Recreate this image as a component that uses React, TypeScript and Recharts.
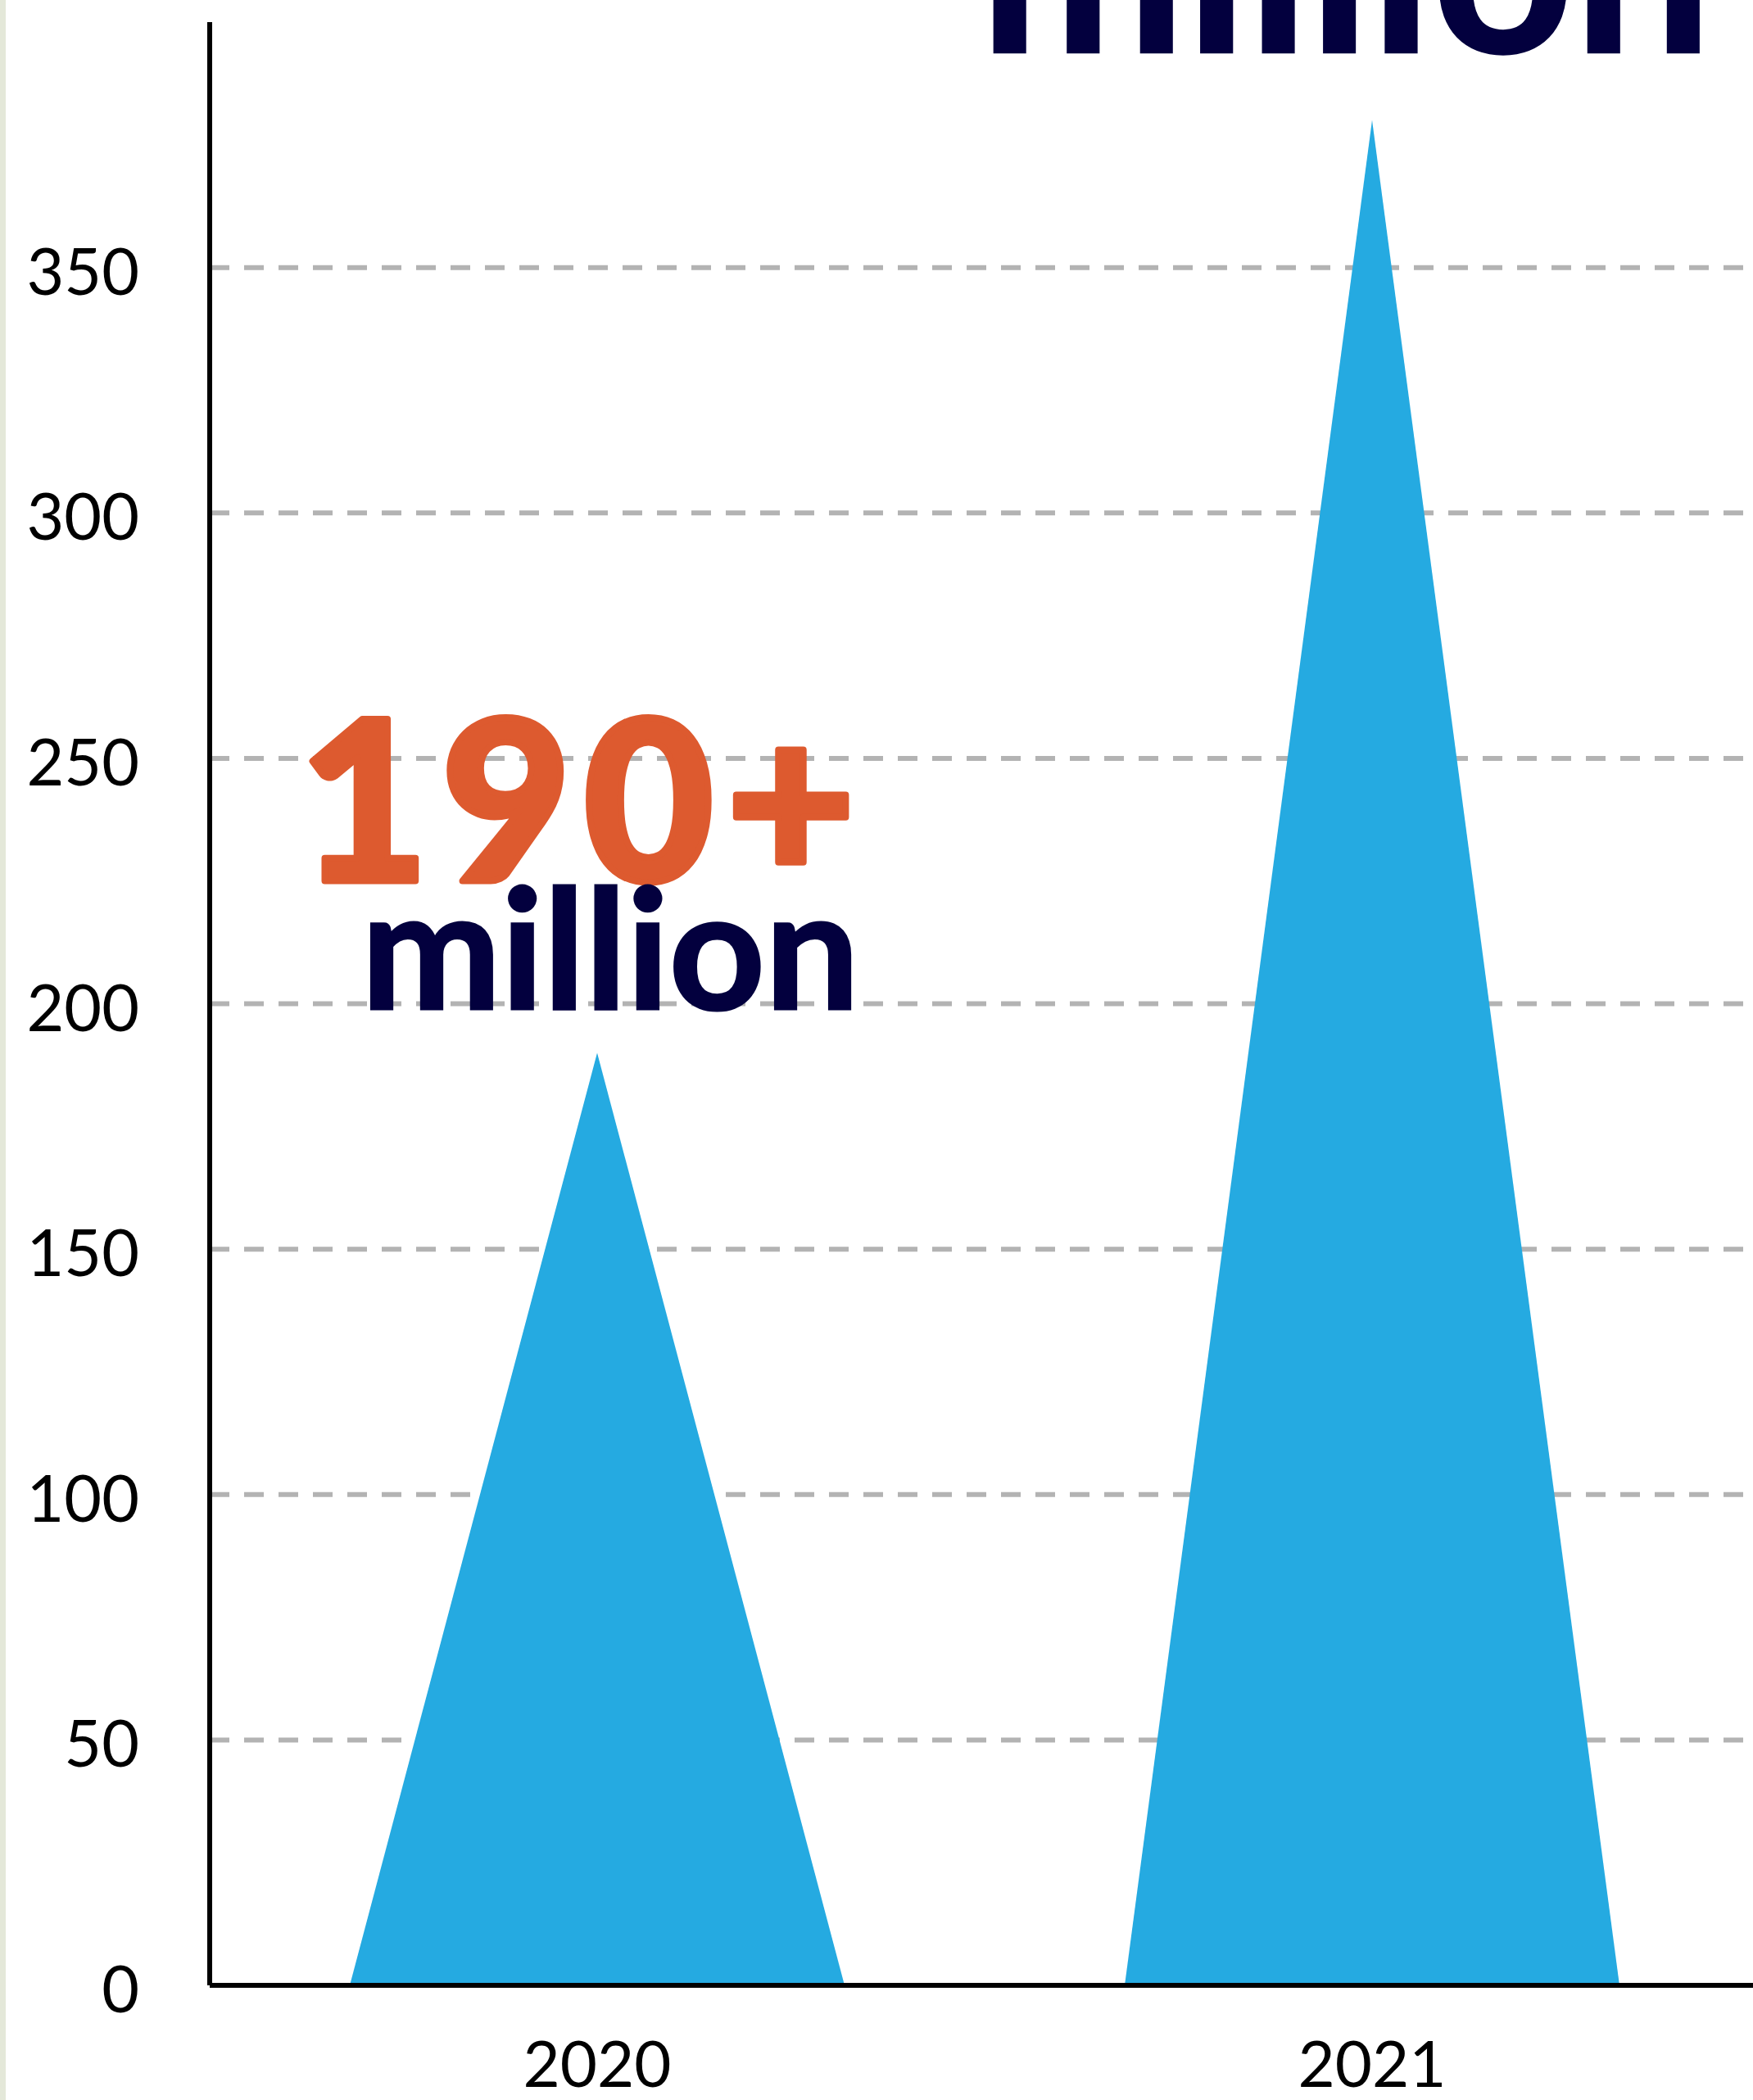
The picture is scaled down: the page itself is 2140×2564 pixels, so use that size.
import { BarChart, Bar, XAxis, YAxis, CartesianGrid, LabelList } from 'recharts';

const years = ['2020', '2021'];
const usersMillions = [190, 380];
const headlines = ['190+', '380+'];
const units = ['million', 'million'];
const yTicks = [0, 50, 100, 150, 200, 250, 300, 350];

const data = years.map((year, i) => ({
  year,
  value: usersMillions[i],
  headline: headlines[i],
  unit: units[i],
}));

// per-bar annotation styling; the 2021 headline sits above the page and is not drawn
const callouts = [
  { big: 272, small: 204, bigDx: -16, smallDx: 16, bigDy: -210, smallDy: -53, showBig: true },
  { big: 420, small: 300, bigDx: -34, smallDx: -32, bigDy: -320, smallDy: -83, showBig: false },
];

const BLUE = '#25aae1';
const ORANGE = '#dd5a2f';
const NAVY = '#03003e';

function Triangle(props: any) {
  const { x, y, width, height } = props;
  if (height == null || height <= 0) return null;
  const d = `M${x},${y + height} L${x + width / 2},${y} L${x + width},${y + height} Z`;
  return <path d={d} fill={BLUE} />;
}

function Callout(props: any) {
  const { x, y, width, index } = props;
  const row = data[index];
  const c = callouts[index];
  if (!row || !c) return null;
  const cx = Number(x) + Number(width) / 2;
  const top = Number(y);
  return (
    <g>
      {c.showBig && (
        <text
          x={cx + c.bigDx}
          y={top + c.bigDy}
          textAnchor="middle"
          fontFamily="Lato"
          fontWeight={900}
          fontSize={c.big}
          letterSpacing={16}
          fill={ORANGE}
          stroke={ORANGE}
          strokeWidth={8}
          strokeLinejoin="round"
        >
          {row.headline}
        </text>
      )}
      <text
        x={cx + c.smallDx}
        y={top + c.smallDy}
        textAnchor="middle"
        fontFamily="Lato"
        fontWeight={700}
        fontSize={c.small}
        fill={NAVY}
        stroke={NAVY}
        strokeWidth={3}
      >
        {row.unit}
      </text>
    </g>
  );
}

export default function App() {
  return (
    <div
      style={{
        position: 'absolute',
        left: 0,
        top: 0,
        width: 2140,
        height: 2564,
        overflow: 'hidden',
        background: '#fff',
      }}
    >
      <div
        style={{
          position: 'absolute',
          left: 0,
          top: 0,
          width: 7,
          height: 2564,
          background: '#e4e8d9',
          zIndex: 2,
        }}
      />
      <BarChart
        width={2148}
        height={2564}
        data={data}
        margin={{ top: 27, right: 0, left: 0, bottom: 0 }}
      >
        <CartesianGrid
          vertical={false}
          horizontalValues={yTicks}
          stroke="#b3b3b3"
          strokeWidth={6}
          strokeDasharray="24 18"
        />
        <XAxis
          dataKey="year"
          height={140}
          tickLine={false}
          tickSize={0}
          tickMargin={69}
          axisLine={{ stroke: '#000', strokeWidth: 6 }}
          tick={{ fill: '#000', fontSize: 78, fontFamily: 'Lato' }}
        />
        <YAxis
          width={256}
          domain={[0, 400]}
          ticks={yTicks}
          tickLine={false}
          tickSize={0}
          tickMargin={86}
          axisLine={{ stroke: '#000', strokeWidth: 6 }}
          tick={{ fill: '#000', fontSize: 79, fontFamily: 'Lato', dy: 5 }}
        />
        <Bar
          dataKey="value"
          barSize={604}
          shape={<Triangle />}
          isAnimationActive={false}
        >
          <LabelList dataKey="headline" content={<Callout />} />
        </Bar>
      </BarChart>
    </div>
  );
}
